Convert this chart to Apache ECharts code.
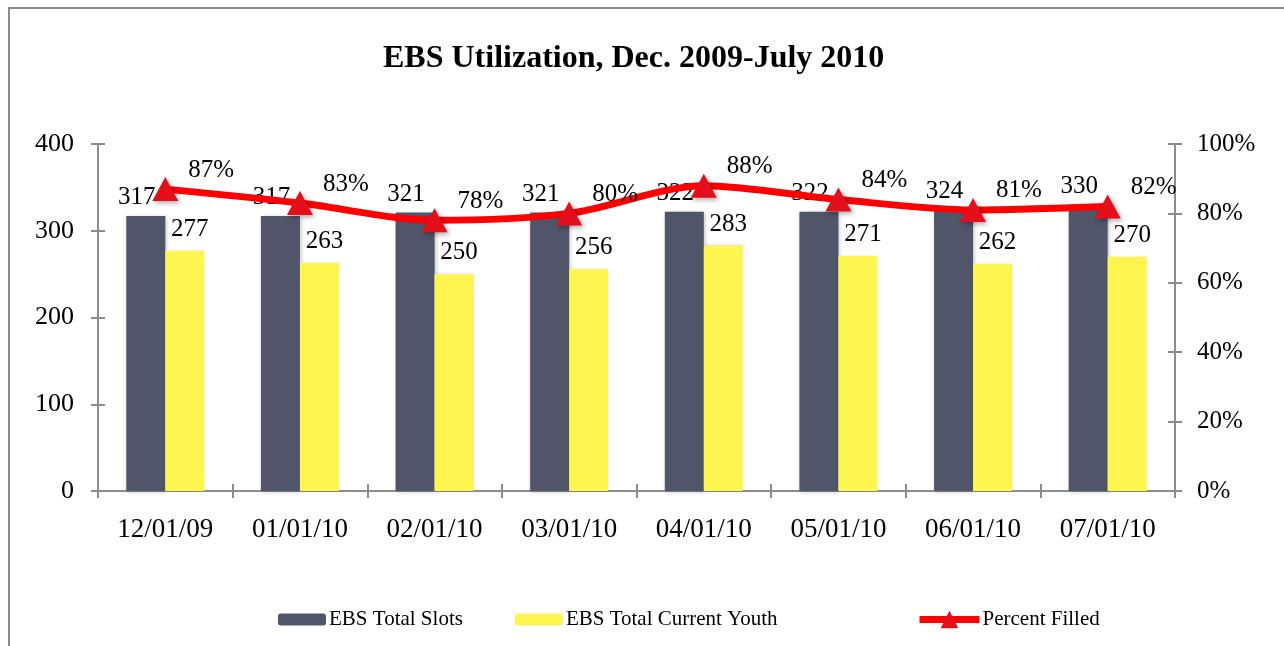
<!DOCTYPE html>
<html>
<head>
<meta charset="utf-8">
<script src="https://cdn.jsdelivr.net/npm/echarts@6/dist/echarts.min.js"></script>
<style>
  html, body { margin: 0; padding: 0; background: #fff; }
  #ebsChart { width: 1284px; height: 646px; }
</style>
</head>
<body>
<div id="ebsChart"></div>
<script>
const months = ['12/01/09', '01/01/10', '02/01/10', '03/01/10', '04/01/10', '05/01/10', '06/01/10', '07/01/10'];
const totalSlots = [317, 317, 321, 321, 322, 322, 324, 330];
const currentYouth = [277, 263, 250, 256, 283, 271, 262, 270];
const percentFilled = [87, 83, 78, 80, 88, 84, 81, 82];
const leftTicks = [0, 100, 200, 300, 400];
const rightTicks = [0, 20, 40, 60, 80, 100];

const serif = "'Liberation Serif', 'Times New Roman', serif";
const axisGray = '#8c8c8c';

function drawChart() {
    var myChart = echarts.init(document.getElementById('ebsChart'));

    const axisLine = { show: true, lineStyle: { color: axisGray, width: 2 } };
    const legendText = { fontFamily: serif, fontSize: 21, color: '#000', padding: [0, 0, 0, -2] };

    const option = {
        animation: false,
        backgroundColor: '#fff',
        title: {
            left: 378,
            top: 38,
            text: 'EBS Utilization, Dec. 2009-July 2010',
            textStyle: { fontFamily: serif, fontSize: 32, fontWeight: 'bold', color: '#000' }
        },
        graphic: [{
            type: 'rect',
            z: -10,
            shape: { x: 9, y: 8, width: 1400, height: 800 },
            style: { fill: 'none', stroke: axisGray, lineWidth: 2 }
        }],
        legend: [
            {
                left: 273,
                top: 604,
                itemWidth: 48,
                itemHeight: 12,
                itemGap: 52,
                textStyle: legendText,
                data: ['EBS Total Slots', 'EBS Total Current Youth']
            },
            {
                left: 911,
                top: 604,
                itemWidth: 60,
                itemHeight: 22,
                textStyle: legendText,
                lineStyle: { width: 7 },
                data: ['Percent Filled']
            }
        ],
        grid: { left: 98, right: 109, top: 144, bottom: 155 },
        xAxis: [
            {
                type: 'category',
                data: months,
                axisLine: Object.assign({ onZero: false }, axisLine),
                axisTick: { show: true, length: 7, lineStyle: { color: axisGray, width: 2 } },
                axisLabel: { fontFamily: serif, fontSize: 27, color: '#000', margin: 25 }
            },
            {
                type: 'category',
                data: months,
                position: 'bottom',
                axisLine: { show: false },
                axisTick: { show: true, inside: true, length: 7, lineStyle: { color: axisGray, width: 2 } },
                axisLabel: { show: false }
            }
        ],
        yAxis: [
            {
                type: 'value',
                min: 0, max: 400, interval: 100,
                position: 'left',
                splitLine: { show: false },
                axisLine: axisLine,
                axisTick: { show: true, length: 7, lineStyle: { color: axisGray, width: 2 } },
                axisLabel: {
                    fontFamily: serif, fontSize: 26, color: '#000', margin: 24,
                    formatter: v => leftTicks.includes(v) ? String(v) : ''
                }
            },
            {
                type: 'value',
                min: 0, max: 100, interval: 20,
                position: 'right',
                splitLine: { show: false },
                axisLine: axisLine,
                axisTick: { show: true, length: 7, lineStyle: { color: axisGray, width: 2 } },
                axisLabel: {
                    fontFamily: serif, fontSize: 25, color: '#000', margin: 22,
                    formatter: v => rightTicks.includes(v) ? v + '%' : ''
                }
            },
            {
                type: 'value',
                min: 0, max: 400, interval: 100,
                position: 'left',
                splitLine: { show: false },
                axisLine: { show: false },
                axisTick: { show: true, inside: true, length: 7, lineStyle: { color: axisGray, width: 2 } },
                axisLabel: { show: false }
            },
            {
                type: 'value',
                min: 0, max: 100, interval: 20,
                position: 'right',
                splitLine: { show: false },
                axisLine: { show: false },
                axisTick: { show: true, inside: true, length: 7, lineStyle: { color: axisGray, width: 2 } },
                axisLabel: { show: false }
            }
        ],
        series: [
            {
                name: 'EBS Total Slots',
                type: 'bar',
                data: totalSlots,
                barWidth: 39,
                barGap: '0%',
                itemStyle: {
                    color: '#50556a',
                    shadowColor: 'rgba(0,0,0,0.25)', shadowBlur: 4, shadowOffsetX: 1, shadowOffsetY: 1
                },
                label: {
                    show: true, position: 'top', distance: 6, offset: [-9, 0],
                    fontFamily: serif, fontSize: 25, color: '#000'
                }
            },
            {
                name: 'EBS Total Current Youth',
                type: 'bar',
                data: currentYouth,
                barWidth: 39,
                itemStyle: {
                    color: '#fff550',
                    shadowColor: 'rgba(0,0,0,0.15)', shadowBlur: 3
                },
                label: {
                    show: true, position: 'top', distance: 6, offset: [5, -3],
                    fontFamily: serif, fontSize: 25, color: '#000'
                }
            },
            {
                name: 'Percent Filled',
                type: 'line',
                yAxisIndex: 1,
                data: percentFilled,
                smooth: 0.3,
                symbol: 'triangle',
                symbolSize: [26, 24],
                lineStyle: { color: '#ff0000', width: 7 },
                itemStyle: {
                    color: '#e3101c',
                    shadowColor: 'rgba(0,0,0,0.35)', shadowBlur: 5, shadowOffsetX: 2, shadowOffsetY: 2
                },
                z: 5,
                label: {
                    show: true, position: 'right', distance: 10, offset: [0, -19],
                    fontFamily: serif, fontSize: 25, color: '#000',
                    formatter: p => p.value + '%'
                }
            }
        ]
    };

    myChart.setOption(option);
}

drawChart();
</script>
</body>
</html>
